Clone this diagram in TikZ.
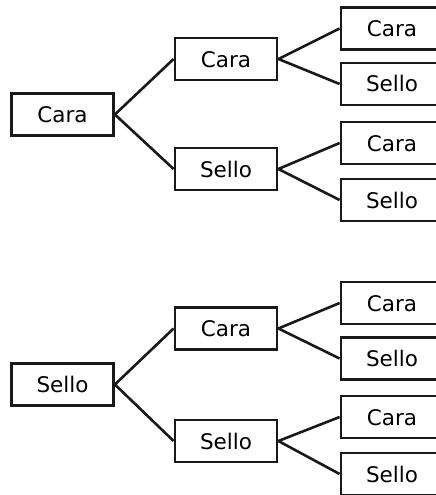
\documentclass[tikz,border=0pt]{standalone}
\usepackage{fontspec}
\setmainfont{DejaVu Sans}
\begin{document}
\begin{tikzpicture}[x=1pt,y=1pt,
  box/.style={draw=black!90, line width=2.8pt, minimum width=102pt, minimum height=42pt,
    inner sep=0pt, font=\fontsize{21.5}{26}\selectfont, text height=16pt, text depth=0pt},
  conn/.style={draw=black!90, line width=2.6pt}]
\useasboundingbox (0,0) rectangle (436,-495);
% top tree
\node[box] (r1) at (62.5,-114.5) {Cara};
\node[box] (r1c) at (226,-59) {Cara};
\node[box] (r1s) at (226,-169) {Sello};
\node[box] (r1cc) at (392,-28.5) {Cara};
\node[box] (r1cs) at (392,-84) {Sello};
\node[box] (r1sc) at (392,-143) {Cara};
\node[box] (r1ss) at (392,-200) {Sello};
\draw[conn] (r1.east) -- (r1c.west);
\draw[conn] (r1.east) -- (r1s.west);
\draw[conn] (r1c.east) -- (r1cc.west);
\draw[conn] (r1c.east) -- (r1cs.west);
\draw[conn] (r1s.east) -- (r1sc.west);
\draw[conn] (r1s.east) -- (r1ss.west);
% bottom tree
\node[box] (r2) at (62.5,-384.5) {Sello};
\node[box] (r2c) at (226,-328.5) {Cara};
\node[box] (r2s) at (226,-441) {Sello};
\node[box] (r2cc) at (392,-303) {Cara};
\node[box] (r2cs) at (392,-358.5) {Sello};
\node[box] (r2sc) at (392,-417) {Cara};
\node[box] (r2ss) at (392,-474) {Sello};
\draw[conn] (r2.east) -- (r2c.west);
\draw[conn] (r2.east) -- (r2s.west);
\draw[conn] (r2c.east) -- (r2cc.west);
\draw[conn] (r2c.east) -- (r2cs.west);
\draw[conn] (r2s.east) -- (r2sc.west);
\draw[conn] (r2s.east) -- (r2ss.west);
\end{tikzpicture}
\end{document}
